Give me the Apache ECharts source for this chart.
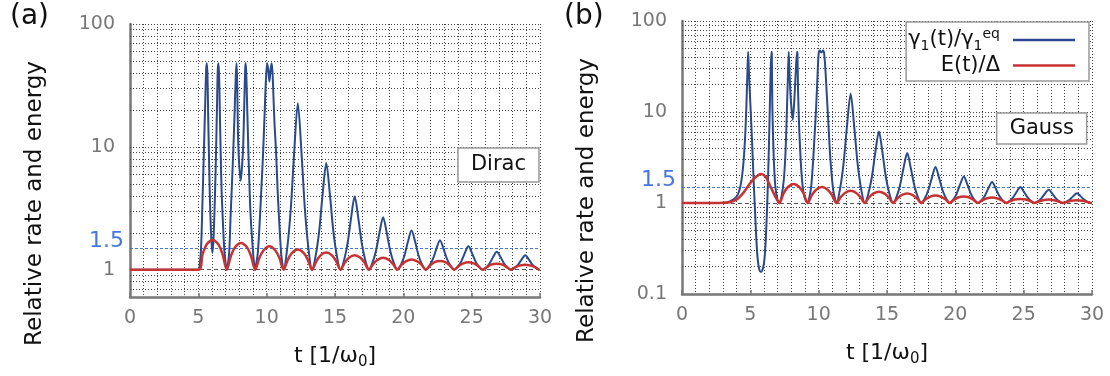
<!DOCTYPE html>
<html><head><meta charset="utf-8">
<script src="https://cdn.jsdelivr.net/npm/echarts@6/dist/echarts.min.js"></script>
<style>html,body{margin:0;padding:0;background:#fff}#c{width:1110px;height:376px}</style>
</head><body><div id="c"></div>
<script>
// ---------- data ----------
const tTicks = [0, 5, 10, 15, 20, 25, 30];
const yLabelsA = [1, 10, 100];
const yLabelsB = [0.1, 1, 10, 100];
const gridValuesA = [0.7,0.8,0.9,2,3,4,5,6,7,8,9,10,20,30,40,50,60,70,80,90,100];
const gridValuesB = [0.2,0.3,0.4,0.5,0.6,0.7,0.8,0.9,2,3,4,5,6,7,8,9,10,20,30,40,50,60,70,80,90,100];
const refLevel = 1.5;
const nameRate = 'rate';
const nameEnergy = 'energy';

// (a) Dirac : rate gamma1(t)/gamma1eq
const rateDirac = [[0,1],[5,1],
[5.1,1.1],[5.2,1.5],[5.3,3.5],[5.41,9.5],[5.5,22],[5.57,42],[5.62,48],
[5.67,38],[5.72,18],[5.77,9.5],[5.83,4.5],[5.89,2.6],[5.96,1.7],[6.03,1.37],
[6.1,1.7],[6.17,2.7],[6.24,5],[6.3,9.5],[6.36,20],[6.42,42],[6.47,48],
[6.52,38],[6.57,20],[6.63,9.5],[6.7,4.5],[6.78,2.7],[6.9,1.45],[7.0,1.12],[7.08,1],
[7.16,1.1],[7.26,1.4],[7.36,2.7],[7.46,5],[7.56,9.5],[7.66,20],[7.74,38],[7.8,48],
[7.85,30],[7.9,13],[7.98,7.5],[8.1,5.3],[8.2,7],[8.28,10],[8.36,22],[8.43,44],[8.47,48],
[8.52,36],[8.58,20],[8.66,9.5],[8.75,4.5],[8.83,2.7],[9.0,1.4],[9.08,1.12],[9.16,1],
[9.24,1.12],[9.36,1.4],[9.51,2.7],[9.63,5],[9.75,9.5],[9.86,20],[9.96,38],[10.04,48],
[10.12,42],[10.2,34],[10.28,42],[10.36,48],
[10.43,40],[10.5,25],[10.58,15],[10.68,9.5],[10.8,4.5],[10.9,2.7],[11.05,1.4],[11.15,1.12],[11.24,1],
[11.49,1.45],[11.76,3.08],[12.01,8.9],[12.28,22.7],[12.55,8.9],[12.8,3.08],[13.07,1.45],[13.32,1],
[13.57,1.27],[13.84,2.05],[14.09,4.06],[14.36,7.4],[14.63,4.06],[14.88,2.05],[15.15,1.27],[15.40,1],
[15.65,1.18],[15.92,1.64],[16.17,2.61],[16.44,3.94],[16.71,2.61],[16.96,1.64],[17.23,1.18],[17.48,1],
[17.73,1.13],[18.0,1.43],[18.25,1.99],[18.52,2.68],[18.79,1.99],[19.04,1.43],[19.31,1.13],[19.56,1],
[19.81,1.09],[20.08,1.30],[20.33,1.68],[20.6,2.09],[20.87,1.68],[21.12,1.30],[21.39,1.09],[21.64,1],
[21.89,1.07],[22.16,1.22],[22.41,1.47],[22.68,1.74],[22.95,1.47],[23.2,1.22],[23.47,1.07],[23.72,1],
[23.97,1.05],[24.24,1.17],[24.49,1.36],[24.76,1.55],[25.03,1.36],[25.28,1.17],[25.55,1.05],[25.80,1],
[26.05,1.04],[26.32,1.13],[26.57,1.27],[26.84,1.40],[27.11,1.27],[27.36,1.13],[27.63,1.04],[27.88,1],
[28.13,1.03],[28.4,1.10],[28.65,1.21],[28.92,1.31],[29.19,1.21],[29.44,1.10],[29.71,1.03],[29.96,1],[30,1]];

// (a) Dirac : energy E(t)/Delta
const energyDirac = [[0,1],[5,1],
[5.31,1.34],[5.62,1.61],[6.04,1.75],[6.46,1.61],[6.77,1.34],[7.08,1],
[7.39,1.30],[7.7,1.53],[8.12,1.65],[8.54,1.53],[8.85,1.30],[9.16,1],
[9.47,1.25],[9.78,1.44],[10.2,1.55],[10.62,1.44],[10.93,1.25],[11.24,1],
[11.55,1.21],[11.86,1.37],[12.28,1.46],[12.7,1.37],[13.01,1.21],[13.32,1],
[13.63,1.17],[13.94,1.31],[14.36,1.38],[14.78,1.31],[15.09,1.17],[15.40,1],
[15.71,1.14],[16.02,1.25],[16.44,1.31],[16.86,1.25],[17.17,1.14],[17.48,1],
[17.79,1.11],[18.1,1.20],[18.52,1.25],[18.94,1.20],[19.25,1.11],[19.56,1],
[19.87,1.10],[20.18,1.17],[20.6,1.21],[21.02,1.17],[21.33,1.10],[21.64,1],
[21.95,1.08],[22.26,1.15],[22.68,1.18],[23.1,1.15],[23.41,1.08],[23.72,1],
[24.03,1.07],[24.34,1.12],[24.76,1.15],[25.18,1.12],[25.49,1.07],[25.80,1],
[26.11,1.05],[26.42,1.10],[26.84,1.12],[27.26,1.10],[27.57,1.05],[27.88,1],
[28.19,1.05],[28.5,1.08],[28.92,1.10],[29.34,1.08],[29.65,1.05],[29.96,1],[30,1]];

// (b) Gauss : rate
const rateGauss = [[0,1],[3,1],[3.5,1.04],[4.0,1.18],[4.27,1.52],[4.47,2.5],[4.61,5],[4.71,11.5],[4.78,26],[4.84,46],
[4.9,27],[5.0,12.5],[5.12,5],[5.24,1.8],[5.34,0.84],[5.44,0.4],[5.54,0.24],[5.66,0.185],[5.78,0.175],[5.93,0.193],
[6.03,0.24],[6.13,0.4],[6.23,0.92],[6.32,2.5],[6.4,7.6],[6.47,22],[6.54,46],[6.57,44],
[6.61,11.5],[6.71,3.25],[6.83,1.52],[6.98,1.1],[7.13,1],
[7.28,1.18],[7.45,1.8],[7.57,3.5],[7.67,9.8],[7.74,22],[7.81,46],
[7.88,24],[7.98,12.5],[8.1,8.2],[8.22,13.6],[8.32,27],[8.42,46],[8.45,44],
[8.49,17.6],[8.61,5],[8.78,1.8],[8.95,1.18],[9.2,1],
[9.3,1.12],[9.45,1.5],[9.6,3],[9.7,5.5],[9.8,10],[9.9,22],[10.0,44],[10.08,47.5],[10.2,45],[10.32,47.5],[10.4,44],
[10.5,28],[10.6,15],[10.7,8],[10.8,4.2],[10.9,2.5],[11.05,1.45],[11.2,1.1],[11.3,1],
[11.55,1.39],[11.82,2.71],[12.07,6.93],[12.34,15.9],[12.6,6.93],[12.85,2.71],[13.12,1.39],[13.37,1],
[13.62,1.24],[13.89,1.92],[14.14,3.55],[14.41,6.12],[14.67,3.55],[14.92,1.92],[15.19,1.24],[15.44,1],
[15.69,1.16],[15.96,1.58],[16.21,2.42],[16.48,3.54],[16.74,2.42],[16.99,1.58],[17.26,1.16],[17.51,1],
[17.76,1.12],[18.03,1.39],[18.28,1.89],[18.55,2.49],[18.81,1.89],[19.06,1.39],[19.33,1.12],[19.58,1],
[19.83,1.08],[20.1,1.27],[20.35,1.6],[20.62,1.96],[20.88,1.6],[21.13,1.27],[21.4,1.08],[21.65,1],
[21.9,1.07],[22.17,1.21],[22.42,1.45],[22.69,1.7],[22.95,1.45],[23.2,1.21],[23.47,1.07],[23.72,1],
[23.97,1.05],[24.24,1.16],[24.49,1.33],[24.76,1.5],[25.02,1.33],[25.27,1.16],[25.54,1.05],[25.79,1],
[26.04,1.04],[26.31,1.13],[26.56,1.27],[26.83,1.4],[27.09,1.27],[27.34,1.13],[27.61,1.04],[27.86,1],
[28.11,1.03],[28.38,1.09],[28.63,1.19],[28.9,1.28],[29.16,1.19],[29.41,1.09],[29.68,1.03],[29.93,1],[30,1]];

// (b) Gauss : energy
const energyGauss = [[0,1],[2.5,1],[3,1.005],[3.5,1.02],[4,1.09],[4.5,1.3],[5,1.66],[5.4,1.93],[5.78,2.08],[6.1,1.95],[6.47,1.52],[6.8,1.2],[7.13,1],
[7.44,1.28],[7.75,1.50],[8.17,1.62],[8.58,1.50],[8.89,1.28],[9.2,1],
[9.51,1.23],[9.82,1.40],[10.24,1.50],[10.65,1.40],[10.96,1.23],[11.3,1],
[11.61,1.16],[11.92,1.29],[12.34,1.36],[12.75,1.29],[13.06,1.16],[13.37,1],
[13.68,1.15],[13.99,1.27],[14.41,1.33],[14.82,1.27],[15.13,1.15],[15.44,1],
[15.75,1.12],[16.06,1.22],[16.48,1.27],[16.89,1.22],[17.2,1.12],[17.51,1],
[17.82,1.10],[18.13,1.17],[18.55,1.21],[18.96,1.17],[19.27,1.10],[19.58,1],
[19.89,1.08],[20.2,1.15],[20.62,1.18],[21.03,1.15],[21.34,1.08],[21.65,1],
[21.96,1.07],[22.27,1.12],[22.69,1.15],[23.1,1.12],[23.41,1.07],[23.72,1],
[24.03,1.05],[24.34,1.09],[24.76,1.11],[25.17,1.09],[25.48,1.05],[25.79,1],
[26.1,1.04],[26.41,1.07],[26.83,1.09],[27.24,1.07],[27.55,1.04],[27.86,1],
[28.17,1.03],[28.48,1.06],[28.9,1.07],[29.31,1.06],[29.62,1.03],[29.93,1],[30,1]];

// ---------- chart ----------
const F = 'DejaVu Sans';
const BLUE = '#2a4a8b', RED = '#c83232', REF = '#4677df', GRID = '#444', AX = '#777';

function xAxisCfg(gi) {
  return {
    type: 'value', gridIndex: gi, min: 0, max: 30, interval: 5,
    name: '{m|t [1/ω}{s|0}{m|]}', nameLocation: 'middle', nameGap: 45,
    nameTextStyle: { rich: {
      m: { fontFamily: F, fontSize: 22, color: '#111', lineHeight: 28 },
      s: { fontFamily: F, fontSize: 15, color: '#111', verticalAlign: 'bottom' } } },
    axisLine: { show: true, onZero: false, lineStyle: { color: AX, width: 2.5 } },
    axisTick: { show: true, inside: true, length: 4, customValues: tTicks, lineStyle: { color: AX, width: 1.5 } },
    axisLabel: { fontFamily: F, fontSize: 19, color: AX, margin: 12, customValues: tTicks },
    splitLine: { show: true, lineStyle: { color: GRID, type: [1, 2], width: 1 } },
    minorTick: { show: false, splitNumber: 5 },
    minorSplitLine: { show: true, lineStyle: { color: GRID, type: [1, 2], width: 1 } }
  };
}
function yAxisCfg(gi, min, labels) {
  return {
    type: 'log', logBase: 10, gridIndex: gi, min: min, max: 100,
    name: 'Relative rate and energy', nameLocation: 'middle', nameGap: 83, nameRotate: 90,
    nameTextStyle: { fontFamily: F, fontSize: 23, color: '#111', padding: [0, 86, 0, 0] },
    axisLine: { show: true, lineStyle: { color: AX, width: 2.5 } },
    axisTick: { show: false },
    splitLine: { show: false },
    axisLabel: { fontFamily: F, fontSize: 19, color: AX, margin: 15,
      formatter: v => { const h = labels.find(l => Math.abs(Math.log10(v / l)) < 1e-6); return h !== undefined ? String(h) : ''; } }
  };
}
function gridLines(gi, values) {
  return {
    type: 'line', name: 'grid' + gi, xAxisIndex: gi, yAxisIndex: gi, data: [], silent: true, z: 1,
    markLine: {
      silent: true, z: 1, symbol: ['none', 'none'], animation: false,
      label: { show: false },
      emphasis: { disabled: true },
      lineStyle: { color: GRID, type: [1, 2], width: 1 },
      data: values.map(v => ({ yAxis: v })).concat([
        { yAxis: 1, lineStyle: { color: '#555', type: [4, 3], width: 1 } },
        { yAxis: refLevel, lineStyle: { color: REF, type: [3, 2], width: 1.2 },
          label: { show: true, position: 'start', distance: 6, formatter: '{a|1.5}',
            rich: { a: { fontFamily: F, fontSize: 22, color: REF, padding: [0, 0, 14, 0] } } } }
      ])
    }
  };
}
function curve(name, gi, data, color, width) {
  return { name: name, type: 'line', xAxisIndex: gi, yAxisIndex: gi, data: data,
    symbol: 'none', showSymbol: false, smooth: 0.3, color: color,
    lineStyle: { color: color, width: width }, z: 3, animation: false, clip: true };
}
function boxTitle(text, right, top, lh, pv) {
  return { text: text, right: right, top: top, padding: [pv, 13, pv, 13],
    borderColor: '#999', borderWidth: 1.5, backgroundColor: '#fff',
    textStyle: { fontFamily: F, fontSize: 21, fontWeight: 'normal', color: '#111', lineHeight: lh } };
}
function panelTitle(text, left) {
  return { text: text, left: left, top: 3, padding: 0,
    textStyle: { fontFamily: F, fontSize: 28, fontWeight: 'normal', color: '#111' } };
}

const chart = echarts.init(document.getElementById('c'), null, { renderer: 'canvas' });
chart.setOption({
  animation: false,
  backgroundColor: '#fff',
  textStyle: { fontFamily: F },
  title: [panelTitle('(a)', 10), panelTitle('(b)', 564),
          boxTitle('Dirac', 571, 148, 26, 4), boxTitle('Gauss', 23, 113, 25, 3)],
  legend: {
    data: [nameRate, nameEnergy], orient: 'vertical', right: 21, top: 22, align: 'right',
    icon: 'rect', itemWidth: 62, itemHeight: 2.5, itemGap: 2, selectedMode: false,
    padding: [5, 14, 5, 2], borderColor: '#999', borderWidth: 1.5, backgroundColor: '#fff',
    formatter: n => n === nameRate ? '{m|γ}{s|1}{m|(t)/γ}{s|1}{u|eq}' : '{m|E(t)/Δ}',
    textStyle: { padding: [0, 8, 0, 0], rich: {
      m: { fontFamily: F, fontSize: 21, color: '#111', lineHeight: 26 },
      s: { fontFamily: F, fontSize: 14, color: '#111', verticalAlign: 'bottom' },
      u: { fontFamily: F, fontSize: 14, color: '#111', verticalAlign: 'top' } } }
  },
  grid: [
    { left: 130, top: 24, width: 410, height: 273 },
    { left: 682, top: 21, width: 410, height: 273 }
  ],
  xAxis: [xAxisCfg(0), xAxisCfg(1)],
  yAxis: [yAxisCfg(0, 0.6, yLabelsA), yAxisCfg(1, 0.1, yLabelsB)],
  series: [
    gridLines(0, gridValuesA), gridLines(1, gridValuesB),
    curve(nameRate, 0, rateDirac, BLUE, 2), curve(nameEnergy, 0, energyDirac, RED, 2.5),
    curve(nameRate, 1, rateGauss, BLUE, 2), curve(nameEnergy, 1, energyGauss, RED, 2.5)
  ]
});
</script></body></html>
